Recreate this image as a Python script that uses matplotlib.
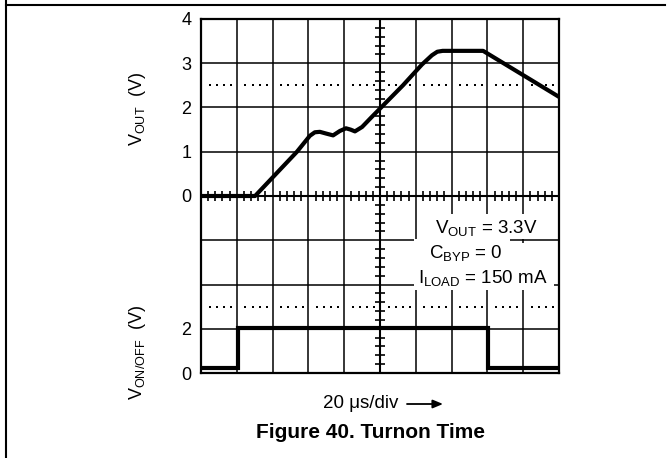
import matplotlib
matplotlib.use("Agg")
import matplotlib.pyplot as plt
from matplotlib.lines import Line2D
from matplotlib.patches import Rectangle

plt.rcParams['font.family'] = ['Liberation Sans', 'DejaVu Sans']

# VOUT trace (time in divisions, 20 us/div; volts)
vout_t = [0, 1.51, 2.68, 3.04, 3.18, 3.32, 3.5, 3.69, 3.88, 4.05, 4.18, 4.3, 4.5, 4.75, 5.03, 5.64, 6.17, 6.45, 6.6, 6.75, 7.88, 10]
vout_v = [0, 0, 1.0, 1.36, 1.44, 1.45, 1.41, 1.37, 1.47, 1.53, 1.5, 1.46, 1.56, 1.77, 2.0, 2.5, 2.97, 3.18, 3.26, 3.28, 3.28, 2.24]

# V_ON/OFF trace
von_t = [0, 1.03, 1.03, 8.02, 8.02, 10]
von_v = [0.22, 0.22, 2.03, 2.03, 0.22, 0.22]

# tick positions (divisions) and labels
ytick_pos = [0, 1, 4, 5, 6, 7, 8]
ytick_lab = ['0', '2', '0', '1', '2', '3', '4']

W, H = 669, 458
fig = plt.figure(figsize=(W / 100, H / 100), dpi=100)
L, R, T, B = 201, 559, 19, 373
ax = fig.add_axes([L / W, 1 - B / H, (R - L) / W, (B - T) / H])
ax.set_xlim(0, 10)
ax.set_ylim(0, 8)


def px2d(x, y):
    return (x - L) / (R - L) * 10, (B - y) / (B - T) * 8


# grid
for x in range(1, 10):
    if x != 5:
        ax.axvline(x, color='k', lw=1.1, zorder=1)
for y in range(1, 8):
    if y != 4:
        ax.axhline(y, color='k', lw=1.1, zorder=1)
# center axes
ax.axvline(5, color='k', lw=1.5, zorder=1)
ax.axhline(4, color='k', lw=1.5, zorder=1)
mx = [i * 0.2 for i in range(1, 50) if i % 5 != 0]
ax.plot(mx, [4] * len(mx), ls='none', marker='|', ms=7.5, mew=1.2, color='k', zorder=1)
my = [i * 0.2 for i in range(1, 40) if i % 5 != 0]
ax.plot([5] * len(my), my, ls='none', marker='_', ms=6.5, mew=1.2, color='k', zorder=1)
# dotted reference lines
dx = [i + f for i in range(10) for f in (0.24, 0.44, 0.64, 0.84)]
for yy in (6.5, 1.5):
    ax.plot(dx, [yy] * len(dx), ls='none', marker='s', ms=1.5, mew=0, color='black', zorder=1)

for s in ax.spines.values():
    s.set_linewidth(1.6)

# white region behind the annotation
for (x0, y0, x1, y1) in [(426, 214, 545, 239), (414, 239, 510, 290), (510, 243, 554, 290)]:
    a0, b0 = px2d(x0, y1)
    a1, b1 = px2d(x1, y0)
    ax.add_patch(Rectangle((a0, b0), a1 - a0, b1 - b0, facecolor='white', edgecolor='none', zorder=2))

# traces
ax.plot(vout_t, [4 + v for v in vout_v], color='k', lw=3.0, solid_joinstyle='round', zorder=3)
ax.plot(von_t, [v / 2 for v in von_v], color='k', lw=3.0, solid_joinstyle='miter', zorder=3)

ax.set_xticks([])
ax.set_yticks(ytick_pos)
ax.set_yticklabels(ytick_lab, fontsize=13)
ax.tick_params(axis='y', length=0, pad=7)

# annotation
fs = 13.5
ax.text(*px2d(486, 228), r'$\mathregular{V_{OUT}}$ = 3.3V', fontsize=fs, ha='center', va='center', zorder=4)
ax.text(*px2d(466, 253), r'$\mathregular{C_{BYP}}$ = 0', fontsize=fs, ha='center', va='center', zorder=4)
ax.text(*px2d(483, 278), r'$\mathregular{I_{LOAD}}$ = 150 mA', fontsize=fs, ha='center', va='center', zorder=4)

# axis labels
fig.text(137 / W, 1 - 109 / H, r'$\mathregular{V_{OUT}}$  (V)', rotation=90, fontsize=13, ha='center', va='center')
fig.text(137 / W, 1 - 352 / H, r'$\mathregular{V_{ON/OFF}}$  (V)', rotation=90, fontsize=13, ha='center', va='center')
fig.text(398 / W, 1 - 403 / H, '20 μs/div', fontsize=13.5, ha='right', va='center')
fig.add_artist(matplotlib.patches.FancyArrowPatch((407 / W, 1 - 404 / H), (443 / W, 1 - 404 / H),
                                                  transform=fig.transFigure, arrowstyle='-|>,head_length=6,head_width=2.5',
                                                  lw=1.3, color='k', shrinkA=0, shrinkB=0))
fig.text(370 / W, 1 - 433 / H, 'Figure 40. Turnon Time', fontsize=15, fontweight='bold', ha='center', va='center')

# page frame
fig.add_artist(Line2D([6 / W, 6 / W], [0, 1], color='k', lw=1.5, transform=fig.transFigure))
fig.add_artist(Line2D([6 / W, 665 / W], [1 - 5 / H, 1 - 5 / H], color='k', lw=1.5, transform=fig.transFigure))

fig.savefig('out.png', dpi=100)
